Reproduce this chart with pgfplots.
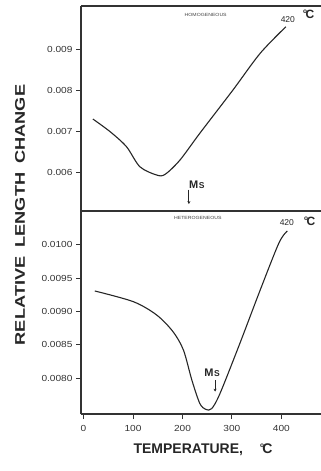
\documentclass[border=0pt]{standalone}
\usepackage{fontspec}
\setmainfont{Liberation Sans}
\usepackage{pgfplots}
\pgfplotsset{compat=1.18}
\usetikzlibrary{arrows.meta}
\newfontfamily\lab[FakeStretch=1.3]{Liberation Sans}
\newfontfamily\smallcap[FakeStretch=1.15]{Liberation Sans}
\newfontfamily\tickfont[FakeStretch=1.15]{Liberation Sans}
\newcommand{\degC}{{\raisebox{0.42em}{\fontsize{6.5}{6.5}\selectfont o}\kern-0.12em C}}
\begin{document}
\begin{tikzpicture}
\useasboundingbox (0pt,0pt) rectangle (321pt,471pt);
\pgfplotsset{
  panel/.style={
    scale only axis, width=240pt, xmin=-5, xmax=480,
    axis lines*=left, axis line style={line width=1.1pt, black!80},
    tick align=outside, major tick length=5pt,
    tick style={line width=0.9pt, black!80},
    ticklabel style={font=\tickfont\fontsize{8.8}{9}\selectfont, text=black!80},
    xticklabel style={yshift=-3pt},
    scaled y ticks=false, clip=false,
  }
}
% ---------- top panel: homogeneous ----------
\begin{axis}[panel, at={(81pt,260pt)}, anchor=south west, height=205pt,
  ymin=0.00505, ymax=0.01005,
  ytick={0.006,0.007,0.008,0.009},
  yticklabels={0.006,0.007,0.008,0.009},
  xtick=\empty]
\addplot[smooth, line width=1.1pt, black!85] coordinates {
(19,0.007293) (54,0.006983) (87,0.006617) (114,0.006129) (148,0.005927)
(165,0.005944) (195,0.006293) (235,0.006944) (302,0.008000) (357,0.008895) (409,0.009544)};
\draw[line width=1.1pt, black!80] (rel axis cs:0,1) -- (rel axis cs:1,1);
\node[font=\smallcap\fontsize{4.5}{5}\selectfont, text=black!75] at (axis cs:247,0.00983) {HOMOGENEOUS};
\node[font=\fontsize{8.5}{9}\selectfont, text=black!85] at (axis cs:413,0.009707) {420};
\node[font=\bfseries\fontsize{12}{13}\selectfont, text=black!85] at (axis cs:455,0.00985) {\degC};
\node[font=\bfseries\fontsize{11}{12}\selectfont, text=black!85] at (axis cs:229,0.00569) {M\kern0.5pt{\fontsize{8.5}{9}\selectfont S}};
\draw[line width=0.9pt, black!85, -{Stealth[length=3pt,width=3pt]}] (axis cs:213,0.00557) -- (axis cs:213,0.00522);
\end{axis}
% ---------- bottom panel: heterogeneous ----------
\begin{axis}[panel, at={(81pt,57pt)}, anchor=south west, height=203pt,
  ymin=0.00746, ymax=0.01051,
  ytick={0.0080,0.0085,0.0090,0.0095,0.0100},
  yticklabels={0.0080,0.0085,0.0090,0.0095,0.0100},
  xtick={0,100,200,300,400},
  xticklabels={0,100,200,300,400}]
\addplot[smooth, line width=1.1pt, black!85] coordinates {
(23,0.009308) (101,0.009147) (148,0.008947) (181,0.008696) (202,0.008421)
(219,0.007970) (235,0.007620) (247,0.007530) (259,0.007540) (276,0.007770)
(316,0.008520) (357,0.009320) (395,0.010030) (412,0.010210)};
\draw[line width=1.1pt, black!80] (rel axis cs:0,1) -- (rel axis cs:1,1);
\node[font=\smallcap\fontsize{4.5}{5}\selectfont, text=black!75] at (axis cs:231,0.010406) {HETEROGENEOUS};
\node[font=\fontsize{8.5}{9}\selectfont, text=black!85] at (axis cs:411,0.010331) {420};
\node[font=\bfseries\fontsize{12}{13}\selectfont, text=black!85] at (axis cs:457,0.01036) {\degC};
\node[font=\bfseries\fontsize{11}{12}\selectfont, text=black!85] at (axis cs:260,0.008085) {M\kern0.5pt{\fontsize{8.5}{9}\selectfont S}};
\draw[line width=0.9pt, black!85, -{Stealth[length=3pt,width=3pt]}] (axis cs:266,0.007965) -- (axis cs:266,0.007795);
\end{axis}
% ---------- axis titles ----------
\node[rotate=90, font=\lab\bfseries\fontsize{14}{15}\selectfont, text=black!85] at (20pt,256pt)
  {RELATIVE\hspace{9pt}LENGTH\hspace{9pt}CHANGE};
\node[font=\bfseries\fontsize{14}{15}\selectfont, text=black!85] at (203pt,21pt)
  {TEMPERATURE,\hspace{17pt}\degC};
\end{tikzpicture}
\end{document}
